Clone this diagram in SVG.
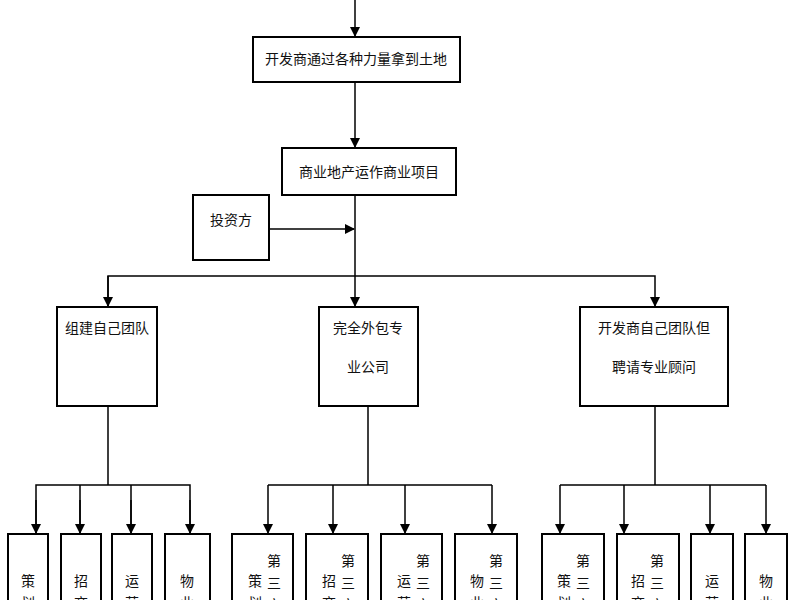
<svg xmlns="http://www.w3.org/2000/svg" width="800" height="600" viewBox="0 0 800 600">
<style>
rect{fill:#fff;stroke:#000;stroke-width:2}
text{font-family:"Liberation Serif","Noto Sans CJK SC",serif;font-size:14px;fill:#111}
.c path,.c line{stroke:#000;stroke-width:1.5;fill:none}
</style>
<defs><marker id="a" markerWidth="10" markerHeight="10" refX="9" refY="5" orient="auto" markerUnits="userSpaceOnUse"><path d="M0,0L10,5L0,10z" fill="#000"/></marker></defs>
<g class="c">
<line x1="355" y1="0" x2="355" y2="36" marker-end="url(#a)"/>
<line x1="355" y1="82" x2="355" y2="147" marker-end="url(#a)"/>
<line x1="355" y1="195" x2="355" y2="306" marker-end="url(#a)"/>
<line x1="269" y1="229" x2="354" y2="229" marker-end="url(#a)"/>
<path d="M108,306V276H655V306" marker-end="url(#a)"/>
<line x1="108" y1="276" x2="108" y2="306" marker-end="url(#a)"/>
<path d="M108,406V485M36,533V485H190V533M80,485V533M131,485V533"/>
<line x1="36" y1="500" x2="36" y2="533" marker-end="url(#a)"/><line x1="80" y1="500" x2="80" y2="533" marker-end="url(#a)"/><line x1="131" y1="500" x2="131" y2="533" marker-end="url(#a)"/><line x1="190" y1="500" x2="190" y2="533" marker-end="url(#a)"/>
<path d="M368,406V485M268,485H492M268,485V500M333,485V500M405,485V500M492,485V500"/>
<line x1="268" y1="500" x2="268" y2="533" marker-end="url(#a)"/><line x1="333" y1="500" x2="333" y2="533" marker-end="url(#a)"/><line x1="405" y1="500" x2="405" y2="533" marker-end="url(#a)"/><line x1="492" y1="500" x2="492" y2="533" marker-end="url(#a)"/>
<path d="M655,406V485M560,485H766M560,485V500M624,485V500M710,485V500M766,485V500"/>
<line x1="560" y1="500" x2="560" y2="533" marker-end="url(#a)"/><line x1="624" y1="500" x2="624" y2="533" marker-end="url(#a)"/><line x1="710" y1="500" x2="710" y2="533" marker-end="url(#a)"/><line x1="766" y1="500" x2="766" y2="533" marker-end="url(#a)"/>
</g>
<g id="n1"><rect x="253" y="37" width="207" height="45"/><text x="356" y="64" text-anchor="middle">开发商通过各种力量拿到土地</text></g>
<g id="n2"><rect x="282" y="148" width="174" height="47"/><text x="369" y="177" text-anchor="middle">商业地产运作商业项目</text></g>
<g id="n3"><rect x="193" y="195" width="76" height="65"/><text x="231" y="225" text-anchor="middle">投资方</text></g>
<g id="n4"><rect x="57" y="307" width="100" height="99"/><text x="107" y="333" text-anchor="middle">组建自己团队</text></g>
<g id="n5"><rect x="319" y="307" width="99" height="99"/><text x="368" y="333" text-anchor="middle">完全外包专</text><text x="368" y="372" text-anchor="middle">业公司</text></g>
<g id="n6"><rect x="580" y="307" width="148" height="99"/><text x="654" y="333" text-anchor="middle">开发商自己团队但</text><text x="654" y="372" text-anchor="middle">聘请专业顾问</text></g>
<g id="b1"><rect x="8" y="534" width="40" height="80"/><text x="28" y="586" text-anchor="middle">策</text><text x="28" y="608" text-anchor="middle">划</text></g>
<g id="b2"><rect x="61" y="534" width="40" height="80"/><text x="81" y="586" text-anchor="middle">招</text><text x="81" y="608" text-anchor="middle">商</text></g>
<g id="b3"><rect x="112" y="534" width="40" height="80"/><text x="132" y="586" text-anchor="middle">运</text><text x="132" y="608" text-anchor="middle">营</text></g>
<g id="b4"><rect x="165" y="534" width="45" height="80"/><text x="187" y="586" text-anchor="middle">物</text><text x="187" y="608" text-anchor="middle">业</text></g>
<g id="b5"><rect x="232" y="534" width="61" height="80"/><text x="255" y="586" text-anchor="middle">策</text><text x="255" y="608" text-anchor="middle">划</text><text x="274" y="566" text-anchor="middle">第</text><text x="274" y="588" text-anchor="middle">三</text><text x="274" y="610" text-anchor="middle">方</text></g>
<g id="b6"><rect x="306" y="534" width="62" height="80"/><text x="329" y="586" text-anchor="middle">招</text><text x="329" y="608" text-anchor="middle">商</text><text x="348" y="566" text-anchor="middle">第</text><text x="348" y="588" text-anchor="middle">三</text><text x="348" y="610" text-anchor="middle">方</text></g>
<g id="b7"><rect x="381" y="534" width="61" height="80"/><text x="404" y="586" text-anchor="middle">运</text><text x="404" y="608" text-anchor="middle">营</text><text x="423" y="566" text-anchor="middle">第</text><text x="423" y="588" text-anchor="middle">三</text><text x="423" y="610" text-anchor="middle">方</text></g>
<g id="b8"><rect x="455" y="534" width="62" height="80"/><text x="477" y="586" text-anchor="middle">物</text><text x="477" y="608" text-anchor="middle">业</text><text x="496" y="566" text-anchor="middle">第</text><text x="496" y="588" text-anchor="middle">三</text><text x="496" y="610" text-anchor="middle">方</text></g>
<g id="b9"><rect x="542" y="534" width="62" height="80"/><text x="564" y="586" text-anchor="middle">策</text><text x="564" y="608" text-anchor="middle">划</text><text x="583" y="566" text-anchor="middle">第</text><text x="583" y="588" text-anchor="middle">三</text><text x="583" y="610" text-anchor="middle">方</text></g>
<g id="b10"><rect x="617" y="534" width="62" height="80"/><text x="638" y="586" text-anchor="middle">招</text><text x="638" y="608" text-anchor="middle">商</text><text x="657" y="566" text-anchor="middle">第</text><text x="657" y="588" text-anchor="middle">三</text><text x="657" y="610" text-anchor="middle">方</text></g>
<g id="b11"><rect x="691" y="534" width="42" height="80"/><text x="712" y="586" text-anchor="middle">运</text><text x="712" y="608" text-anchor="middle">营</text></g>
<g id="b12"><rect x="745" y="534" width="42" height="80"/><text x="766" y="586" text-anchor="middle">物</text><text x="766" y="608" text-anchor="middle">业</text></g>
</svg>
